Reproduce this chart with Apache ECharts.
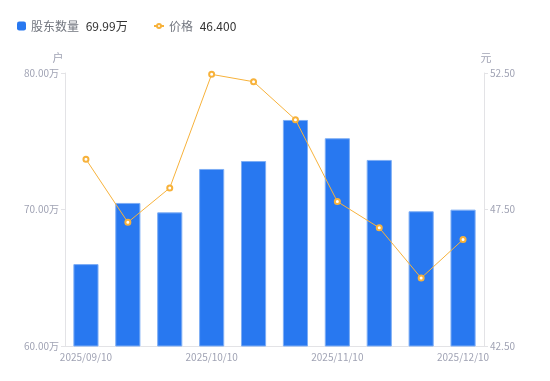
<!DOCTYPE html>
<html>
<head>
<meta charset="utf-8">
<script src="https://cdn.jsdelivr.net/npm/echarts@6/dist/echarts.min.js"></script>
<style>
  html, body { margin: 0; padding: 0; background: #fff; }
  #main { width: 550px; height: 381px; }
</style>
</head>
<body>
<div id="main"></div>
<script>
var dates = ['2025/09/10', '2025/09/19', '2025/09/30', '2025/10/10', '2025/10/20',
             '2025/10/31', '2025/11/10', '2025/11/20', '2025/11/28', '2025/12/10'];
// 股东数量, 单位: 万户
var holders = [66.00, 70.48, 69.79, 72.97, 73.55, 76.56, 75.22, 73.63, 69.87, 69.99];
// 价格, 单位: 元
var prices = [49.34, 47.03, 48.29, 52.45, 52.18, 50.79, 47.79, 46.83, 44.99, 46.40];

var chartDom = document.getElementById('main');
var myChart = echarts.init(chartDom);
var labelColor = '#a0a3b4';
var axisLineColor = '#e3e3e6';
var font = '"Noto Sans CJK SC", "Noto Sans", sans-serif';

var lastHolder = holders[holders.length - 1];
var lastPrice = prices[prices.length - 1];

var legendText = {
  fontFamily: font,
  rich: {
    n: { color: '#72767f', fontSize: 12, fontFamily: font },
    v: { color: '#333', fontSize: 12, fontFamily: font, padding: [0, 0, 0, 4] }
  }
};

var option = {
  textStyle: { fontFamily: font },
  legend: [
    {
      left: 12,
      top: 15,
      itemWidth: 9,
      itemHeight: 9,
      itemStyle: { borderWidth: 0 },
      textStyle: legendText,
      data: [{ name: '股东数量', icon: 'roundRect' }],
      formatter: function (name) {
        return '{n|' + name + '} {v|' + lastHolder.toFixed(2) + '万}';
      }
    },
    {
      left: 148,
      top: 15,
      itemWidth: 10,
      itemHeight: 5,
      textStyle: legendText,
      data: ['价格'],
      formatter: function (name) {
        return '{n|' + name + '} {v|' + lastPrice.toFixed(3) + '}';
      }
    }
  ],
  grid: { left: 65, right: 66, top: 73, bottom: 35 },
  xAxis: {
    type: 'category',
    data: dates,
    axisTick: { show: false },
    axisLine: { lineStyle: { color: axisLineColor } },
    axisLabel: { color: labelColor, fontSize: 10, interval: 2, margin: 6 }
  },
  yAxis: [
    {
      type: 'value',
      name: '户',
      nameGap: 10,
      nameTextStyle: { color: labelColor, fontSize: 11, padding: [0, 14, 0, 0] },
      min: 60, max: 80, interval: 10,
      splitLine: { show: false },
      axisLine: { show: true, lineStyle: { color: axisLineColor } },
      axisTick: { show: true, length: 4, lineStyle: { color: axisLineColor } },
      axisLabel: {
        color: labelColor, fontSize: 10, margin: 6,
        formatter: function (v) { return v.toFixed(2) + '万'; }
      }
    },
    {
      type: 'value',
      name: '元',
      nameGap: 10,
      nameTextStyle: { color: labelColor, fontSize: 11, padding: [0, 0, 0, 4] },
      min: 42.5, max: 52.5, interval: 5,
      splitLine: { show: false },
      axisLine: { show: true, lineStyle: { color: axisLineColor } },
      axisTick: { show: true, length: 4, lineStyle: { color: axisLineColor } },
      axisLabel: {
        color: labelColor, fontSize: 10, margin: 6,
        formatter: function (v) { return v.toFixed(2); }
      }
    }
  ],
  series: [
    {
      name: '股东数量',
      type: 'bar',
      barWidth: '60%',
      yAxisIndex: 0,
      itemStyle: { color: '#2878f0', borderColor: '#7eaef5', borderWidth: 1 },
      data: holders
    },
    {
      name: '价格',
      type: 'line',
      yAxisIndex: 1,
      symbol: 'emptyCircle',
      symbolSize: 5,
      itemStyle: { color: '#f7b23b', borderWidth: 2 },
      lineStyle: { color: '#f7b23b', width: 1 },
      data: prices
    }
  ]
};

option && myChart.setOption(option);
</script>
</body>
</html>
